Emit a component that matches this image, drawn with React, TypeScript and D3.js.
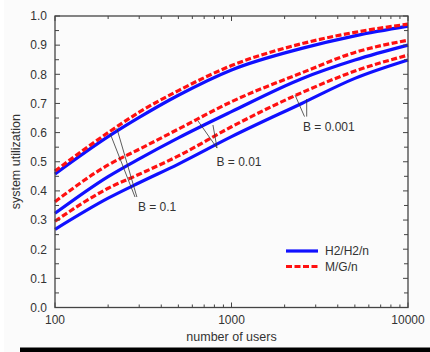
import React from "react";
import * as d3 from "d3";

const users = [100, 200, 300, 500, 1000, 2500, 5000, 10000];
const h2_B1 = [0.458, 0.586, 0.652, 0.728, 0.815, 0.889, 0.932, 0.965];
const mg_B1 = [0.468, 0.6, 0.67, 0.744, 0.83, 0.905, 0.944, 0.972];
const h2_B01 = [0.323, 0.449, 0.51, 0.582, 0.672, 0.785, 0.849, 0.9];
const mg_B01 = [0.363, 0.489, 0.543, 0.612, 0.706, 0.805, 0.875, 0.917];
const h2_B001 = [0.268, 0.375, 0.428, 0.492, 0.586, 0.7, 0.786, 0.849];
const mg_B001 = [0.296, 0.409, 0.457, 0.52, 0.62, 0.737, 0.811, 0.866];

const xTickLabels = ["100", "1000", "10000"];
const yTicks = [0, 0.1, 0.2, 0.3, 0.4, 0.5, 0.6, 0.7, 0.8, 0.9, 1.0];

// annotations in data coordinates: [n, value]
const annotations = [
  { label: "B = 0.1", text: [295, 0.332], lines: [[[205, 0.598], [284, 0.379]], [[224, 0.615], [291, 0.379]]] },
  { label: "B = 0.01", text: [822, 0.484], lines: [[[646, 0.64], [828, 0.547]], [[785, 0.626], [828, 0.547]]] },
  { label: "B = 0.001", text: [2541, 0.604], lines: [[[2291, 0.729], [2592, 0.655]], [[2667, 0.715], [2667, 0.655]]] },
];

const W = 430, H = 352;
const L = 55, R = 408, T = 16, B = 307.5;
const FONT = "'Liberation Sans', Arial, sans-serif";

export default function App() {
  const x = d3.scaleLog().domain([100, 10000]).range([L, R]);
  const y = d3.scaleLinear().domain([0, 1]).range([B, T]);
  const line = d3
    .line<[number, number]>()
    .x((d) => x(d[0]))
    .y((d) => y(d[1]))
    .curve(d3.curveMonotoneX);
  const mk = (vals: number[]) => line(users.map((u, i) => [u, vals[i]] as [number, number])) || "";

  const blue = "#1010ff";
  const red = "#ff1010";
  const frame = "#444";

  const minorX: number[] = [];
  for (const dec of [100, 1000]) for (let k = 2; k <= 9; k++) minorX.push(dec * k);
  const yMinor = d3.range(0, 21).map((i) => i * 0.05);

  return (
    <svg width={W} height={H} style={{ position: "absolute", left: 0, top: 0, background: "#fff" }}>
      <rect x={4} y={0} width={W - 4} height={H} fill="#fbfbfb" />
      {[h2_B1, h2_B01, h2_B001].map((v, i) => (
        <path key={"b" + i} d={mk(v)} fill="none" stroke={blue} strokeWidth={3.2} />
      ))}
      {[mg_B1, mg_B01, mg_B001].map((v, i) => (
        <path key={"r" + i} d={mk(v)} fill="none" stroke={red} strokeWidth={3.2} strokeDasharray="6,2.5" />
      ))}
      <rect x={L} y={T} width={R - L} height={B - T} fill="none" stroke={frame} strokeWidth={1.3} />
      {yMinor.map((v, i) => {
        const len = i % 2 === 0 ? 5 : 4;
        return (
          <g key={"yt" + i} stroke={frame} strokeWidth={1}>
            <line x1={L} x2={L + len} y1={y(v)} y2={y(v)} />
            <line x1={R} x2={R - len} y1={y(v)} y2={y(v)} />
          </g>
        );
      })}
      {minorX.map((n, i) => (
        <g key={"xm" + i} stroke={frame} strokeWidth={1}>
          <line x1={x(n)} x2={x(n)} y1={B} y2={B - 3} />
          <line x1={x(n)} x2={x(n)} y1={T} y2={T + 3} />
        </g>
      ))}
      {[100, 1000, 10000].map((n, i) => (
        <g key={"xM" + i} stroke={frame} strokeWidth={1}>
          <line x1={x(n)} x2={x(n)} y1={B} y2={B - 5} />
          <line x1={x(n)} x2={x(n)} y1={T} y2={T + 5} />
        </g>
      ))}
      {yTicks.map((v, i) => (
        <text key={"yl" + i} x={47} y={y(v) + 4.3} textAnchor="end" fontSize={12} fontFamily={FONT} fill="#333">
          {v.toFixed(1)}
        </text>
      ))}
      {[100, 1000, 10000].map((n, i) => (
        <text key={"xl" + i} x={x(n)} y={324} textAnchor="middle" fontSize={12} fontFamily={FONT} fill="#333">
          {xTickLabels[i]}
        </text>
      ))}
      <text x={(L + R) / 2} y={341} textAnchor="middle" fontSize={12.5} fontFamily={FONT} fill="#333">
        number of users
      </text>
      <text
        transform={`translate(20,${(T + B) / 2}) rotate(-90)`}
        textAnchor="middle"
        fontSize={12.5}
        fontFamily={FONT}
        fill="#333"
      >
        system utilization
      </text>
      {annotations.map((a, i) => (
        <g key={"an" + i}>
          {a.lines.map((ln, j) => (
            <line
              key={j}
              x1={x(ln[0][0])}
              y1={y(ln[0][1])}
              x2={x(ln[1][0])}
              y2={y(ln[1][1])}
              stroke="#333"
              strokeWidth={0.8}
            />
          ))}
          <text x={x(a.text[0])} y={y(a.text[1])} fontSize={12} fontFamily={FONT} fill="#333">
            {a.label}
          </text>
        </g>
      ))}
      <line x1={286} x2={318} y1={251} y2={251} stroke={blue} strokeWidth={3.2} />
      <line x1={286} x2={318} y1={266.5} y2={266.5} stroke={red} strokeWidth={3.2} strokeDasharray="6,2.5" />
      <text x={325} y={255} fontSize={12} fontFamily={FONT} fill="#333">H2/H2/n</text>
      <text x={325} y={270.5} fontSize={12} fontFamily={FONT} fill="#333">M/G/n</text>
      <rect x={20} y={347.5} width={410} height={5} fill="#000" />
    </svg>
  );
}
